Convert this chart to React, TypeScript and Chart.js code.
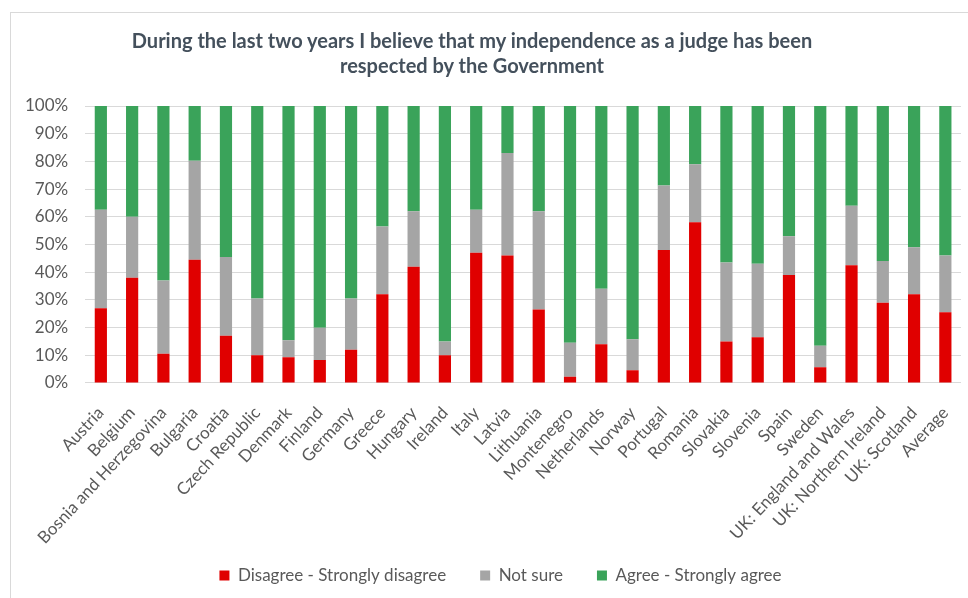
import React, { useEffect, useRef } from "react";
import { Chart, registerables } from "chart.js";

Chart.register(...registerables);

const TITLE = [
  "During the last two years I believe that my independence as a judge has been",
  "respected by the Government",
];

const CATEGORIES = [
  "Austria", "Belgium", "Bosnia and Herzegovina", "Bulgaria", "Croatia",
  "Czech Republic", "Denmark", "Finland", "Germany", "Greece", "Hungary",
  "Ireland", "Italy", "Latvia", "Lithuania", "Montenegro", "Netherlands",
  "Norway", "Portugal", "Romania", "Slovakia", "Slovenia", "Spain", "Sweden",
  "UK: England and Wales", "UK: Northern Ireland", "UK: Scotland", "Average",
];

const DISAGREE = [
  27, 38, 10.5, 44.5, 17, 10, 9.3, 8.3, 12, 32, 42, 10, 47, 46, 26.5, 2.2,
  14, 4.6, 48, 58, 15, 16.5, 39, 5.7, 42.5, 29, 32, 25.5,
];
const NOT_SURE = [
  35.5, 22, 26.5, 35.7, 28.5, 20.5, 6.1, 11.6, 18.5, 24.5, 20, 5, 15.5, 37,
  35.5, 12.3, 20, 11.2, 23.3, 21, 28.5, 26.5, 14, 7.7, 21.5, 15, 17, 20.5,
];
const AGREE = [
  37.5, 40, 63, 19.8, 54.5, 69.5, 84.6, 80.1, 69.5, 43.5, 38, 85, 37.5, 17,
  38, 85.5, 66, 84.2, 28.7, 21, 56.5, 57, 47, 86.6, 36, 56, 51, 54,
];

const SERIES_NAMES = ["Disagree - Strongly disagree", "Not sure", "Agree - Strongly agree"];
const Y_TICKS = [0, 10, 20, 30, 40, 50, 60, 70, 80, 90, 100];

const FONT = "Lato, 'Open Sans', sans-serif";

const layoutTweaks = {
  id: "layoutTweaks",
  afterLayout(chart: any) {
    if (chart.legend) {
      chart.legend.left += 16;
      chart.legend.right += 16;
    }
    const x = chart.scales.x;
    if (x) x.bottom = chart.height;
  },
};

export default function App() {
  const ref = useRef<HTMLCanvasElement | null>(null);

  useEffect(() => {
    if (!ref.current) return;
    const chart = new Chart(ref.current, {
      type: "bar",
      data: {
        labels: CATEGORIES,
        datasets: [
          { label: SERIES_NAMES[0], data: DISAGREE, backgroundColor: "#e00000" },
          { label: SERIES_NAMES[1], data: NOT_SURE, backgroundColor: "#a5a5a5" },
          { label: SERIES_NAMES[2], data: AGREE, backgroundColor: "#3aa35a" },
        ],
      },
      plugins: [layoutTweaks],
      options: {
        animation: false,
        responsive: false,
        maintainAspectRatio: false,
        layout: { padding: { left: 8, right: 7, top: 106, bottom: 4 } },
        datasets: { bar: { barPercentage: 0.78, categoryPercentage: 0.5 } },
        plugins: {
          title: { display: false },
          legend: {
            position: "bottom",
            labels: {
              color: "#595959",
              font: { family: FONT, size: 17 },
              boxWidth: 10,
              boxHeight: 10,
              padding: 34,
            },
          },
          tooltip: { enabled: false },
        },
        scales: {
          x: {
            stacked: true,
            grid: { display: false, drawTicks: false },
            border: { display: false },
            afterFit: (scale: any) => {
              scale.height -= 35;
              scale.paddingRight = 0;
            },
            ticks: {
              color: "#595959",
              font: { family: FONT, size: 17 },
              minRotation: 47,
              maxRotation: 47,
              autoSkip: false,
              padding: 20,
            },
          },
          y: {
            stacked: true,
            min: 0,
            max: 100,
            afterBuildTicks: (scale: any) => {
              scale.ticks = Y_TICKS.map((v) => ({ value: v }));
            },
            grid: { color: "#d9d9d9", drawTicks: false },
            border: { display: false },
            ticks: {
              color: "#595959",
              font: { family: FONT, size: 17 },
              padding: 17,
              callback: (v: any) => v + "%",
            },
          },
        },
      },
    });
    return () => chart.destroy();
  }, []);

  return (
    <div style={{ position: "fixed", left: 0, top: 0, width: 968, height: 598, background: "#fff" }}>
      <div
        style={{
          position: "absolute",
          left: 10,
          top: 12,
          right: 0,
          bottom: 0,
          borderTop: "1px solid #d9d9d9",
          borderLeft: "1px solid #d9d9d9",
        }}
      />
      <canvas ref={ref} width={968} height={598} style={{ position: "absolute", left: 0, top: 0 }} />
      <div
        style={{
          position: "absolute",
          left: 472 - 400,
          width: 800,
          top: 28,
          textAlign: "center",
          fontFamily: FONT,
          fontWeight: "bold",
          fontSize: 20,
          lineHeight: "25px",
          color: "#44505c",
        }}
      >
        {TITLE.map((t, i) => (
          <div key={i}>{t}</div>
        ))}
      </div>
    </div>
  );
}
